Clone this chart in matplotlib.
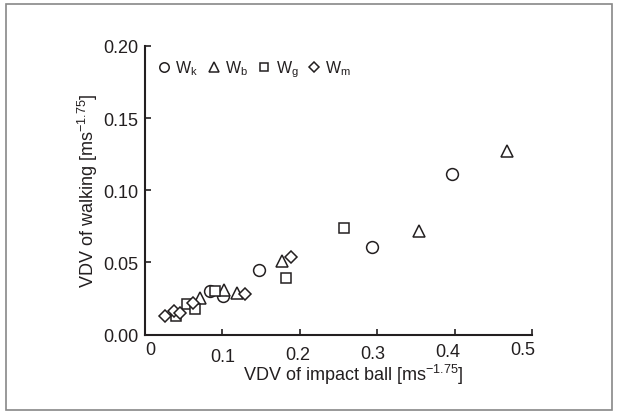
import matplotlib
matplotlib.use("Agg")
import matplotlib.pyplot as plt
from matplotlib.patches import Rectangle
import matplotlib.transforms as mtransforms

# Data
wk_x = [0.084, 0.101, 0.147, 0.293, 0.396]
wk_y = [0.030, 0.027, 0.045, 0.061, 0.111]
wb_x = [0.071, 0.102, 0.119, 0.177, 0.354, 0.468]
wb_y = [0.025, 0.031, 0.029, 0.051, 0.072, 0.127]
wg_x = [0.040, 0.054, 0.065, 0.091, 0.182, 0.257]
wg_y = [0.013, 0.021, 0.018, 0.030, 0.039, 0.074]
wm_x = [0.026, 0.037, 0.045, 0.062, 0.129, 0.188]
wm_y = [0.013, 0.016, 0.015, 0.022, 0.028, 0.054]

xticks = [0, 0.1, 0.2, 0.3, 0.4, 0.5]
xticklabels = ["0", "0.1", "0.2", "0.3", "0.4", "0.5"]
yticks = [0.00, 0.05, 0.10, 0.15, 0.20]
yticklabels = ["0.00", "0.05", "0.10", "0.15", "0.20"]

C = "#231f20"
plt.rcParams['font.family'] = ['Liberation Sans', 'DejaVu Sans']
plt.rcParams['mathtext.fontset'] = 'custom'
plt.rcParams['mathtext.rm'] = 'Liberation Sans'
plt.rcParams['mathtext.it'] = 'Liberation Sans'

FS = 13
fig = plt.figure(figsize=(6.17, 4.14), dpi=100)
ax = fig.add_axes([145/617, 1-335.5/414, (532-145)/617, (335.5-47)/414])

ms = 8.5
kw = dict(linestyle='none', markerfacecolor='white', markeredgecolor=C, markeredgewidth=1.1)
ax.plot(wk_x, wk_y, marker='o', markersize=ms, label='W$_\\mathregular{k}$', **kw)
ax.plot(wb_x, wb_y, marker='^', markersize=ms, label='W$_\\mathregular{b}$', **kw)
ax.plot(wg_x, wg_y, marker='s', markersize=ms*0.85, label='W$_\\mathregular{g}$', **kw)
ax.plot(wm_x, wm_y, marker='D', markersize=ms*0.75, label='W$_\\mathregular{m}$', **kw)

ax.set_xlim(0, 0.5)
ax.set_ylim(0, 0.2)
ax.set_xticks(xticks)
ax.set_xticklabels(xticklabels)
ax.set_yticks(yticks)
ax.set_yticklabels(yticklabels)
for s in ['top', 'right']:
    ax.spines[s].set_visible(False)
for s in ['left', 'bottom']:
    ax.spines[s].set_color(C)
    ax.spines[s].set_linewidth(1.5)
ax.tick_params(direction='in', length=4, width=1.2, color=C, labelcolor=C, labelsize=FS)
ax.tick_params(axis='x', pad=5)
ax.tick_params(axis='y', pad=5)

# slight irregular placement of x tick labels as in the original
dxs = [5, 0.6, -1.8, -4.2, -6.6, -9]
dys = [0, 6.7, 5, 4, 1.7, 0]
for lab, dx, dy in zip(ax.get_xticklabels(), dxs, dys):
    lab.set_transform(lab.get_transform() +
                      mtransforms.ScaledTranslation(dx/100, -dy/100, fig.dpi_scale_trans))

ax.set_xlabel('VDV of impact ball [ms$^{-1.75}$]', fontsize=FS, color=C)
ax.xaxis.set_label_coords(0.537, -0.095)
ax.set_ylabel('VDV of walking [ms$^{-1.75}$]', fontsize=FS, color=C, labelpad=2)

leg = ax.legend(loc='upper left', ncol=4, frameon=False, fontsize=11.5,
                handletextpad=0.2, columnspacing=0.5, handlelength=1.0, markerscale=0.8,
                bbox_to_anchor=(0.0, 0.995), borderaxespad=0.3)
for t in leg.get_texts():
    t.set_color(C)

fig.patches.append(Rectangle((6/617, 3/414), 606/617, 406/414, transform=fig.transFigure,
                             fill=False, edgecolor='#888888', linewidth=1.2))

fig.savefig('out.png', dpi=100)
